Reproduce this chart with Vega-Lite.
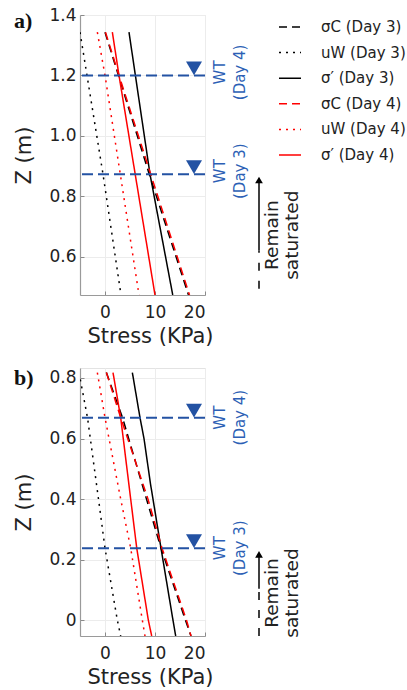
{
  "$schema": "https://vega.github.io/schema/vega-lite/v6.json",
  "background": "white",
  "padding": {"left": 13, "top": 5, "right": 0, "bottom": 0},
  "config": {
    "font": "DejaVu Sans",
    "view": {"stroke": "#e3e3e3"},
    "axis": {
      "domainColor": "#9a9a9a",
      "domainWidth": 1.2,
      "grid": true,
      "gridColor": "#ececec",
      "tickColor": "#8a8a8a",
      "tickSize": -4,
      "labelFont": "DejaVu Sans",
      "titleFont": "DejaVu Sans",
      "labelFontSize": 17,
      "titleFontSize": 21,
      "labelColor": "#222222",
      "titleColor": "#222222",
      "titleFontWeight": "normal",
      "labelOverlap": false
    }
  },
  "datasets": {
    "grid5": [{"s": 5}, {"s": 15}],
    "a_lines": [
      {"series": "σC (Day 3)", "z": 1.343, "s": 0.0},
      {"series": "σC (Day 3)", "z": 0.873, "s": 8.85},
      {"series": "σC (Day 3)", "z": 0.473, "s": 16.7},
      {"series": "uW (Day 3)", "z": 1.343, "s": -5.0},
      {"series": "uW (Day 3)", "z": 0.873, "s": -0.4},
      {"series": "uW (Day 3)", "z": 0.473, "s": 3.2},
      {"series": "σ′ (Day 3)", "z": 1.343, "s": 4.8},
      {"series": "σ′ (Day 3)", "z": 0.873, "s": 9.0},
      {"series": "σ′ (Day 3)", "z": 0.473, "s": 13.55},
      {"series": "σC (Day 4)", "z": 1.343, "s": 0.1},
      {"series": "σC (Day 4)", "z": 1.2, "s": 2.8},
      {"series": "σC (Day 4)", "z": 0.473, "s": 16.9},
      {"series": "uW (Day 4)", "z": 1.343, "s": -1.53},
      {"series": "uW (Day 4)", "z": 1.2, "s": 0.0},
      {"series": "uW (Day 4)", "z": 0.473, "s": 6.8},
      {"series": "σ′ (Day 4)", "z": 1.343, "s": 1.47},
      {"series": "σ′ (Day 4)", "z": 1.2, "s": 2.8},
      {"series": "σ′ (Day 4)", "z": 0.473, "s": 10.0}
    ],
    "b_lines": [
      {"series": "σC (Day 3)", "z": 0.818, "s": 0.27},
      {"series": "σC (Day 3)", "z": 0.669, "s": 3.5},
      {"series": "σC (Day 3)", "z": 0.4, "s": 8.3},
      {"series": "σC (Day 3)", "z": 0.238, "s": 11.2},
      {"series": "σC (Day 3)", "z": 0.0, "s": 16.1},
      {"series": "σC (Day 3)", "z": -0.052, "s": 17.2},
      {"series": "uW (Day 3)", "z": 0.818, "s": -5.2},
      {"series": "uW (Day 3)", "z": 0.669, "s": -3.5},
      {"series": "uW (Day 3)", "z": 0.4, "s": -1.3},
      {"series": "uW (Day 3)", "z": 0.238, "s": 0.0},
      {"series": "uW (Day 3)", "z": 0.0, "s": 2.47},
      {"series": "uW (Day 3)", "z": -0.052, "s": 3.14},
      {"series": "σ′ (Day 3)", "z": 0.818, "s": 5.47},
      {"series": "σ′ (Day 3)", "z": 0.669, "s": 7.0},
      {"series": "σ′ (Day 3)", "z": 0.6, "s": 7.8},
      {"series": "σ′ (Day 3)", "z": 0.45, "s": 9.1},
      {"series": "σ′ (Day 3)", "z": 0.4, "s": 9.6},
      {"series": "σ′ (Day 3)", "z": 0.238, "s": 11.2},
      {"series": "σ′ (Day 3)", "z": 0.0, "s": 13.6},
      {"series": "σ′ (Day 3)", "z": -0.052, "s": 14.14},
      {"series": "σC (Day 4)", "z": 0.818, "s": 0.28},
      {"series": "σC (Day 4)", "z": 0.669, "s": 3.14},
      {"series": "σC (Day 4)", "z": 0.4, "s": 8.6},
      {"series": "σC (Day 4)", "z": 0.238, "s": 11.4},
      {"series": "σC (Day 4)", "z": 0.0, "s": 16.3},
      {"series": "σC (Day 4)", "z": -0.052, "s": 17.2},
      {"series": "uW (Day 4)", "z": 0.818, "s": -1.53},
      {"series": "uW (Day 4)", "z": 0.669, "s": 0.0},
      {"series": "uW (Day 4)", "z": 0.4, "s": 3.14},
      {"series": "uW (Day 4)", "z": 0.238, "s": 5.14},
      {"series": "uW (Day 4)", "z": 0.0, "s": 7.47},
      {"series": "uW (Day 4)", "z": -0.052, "s": 8.0},
      {"series": "σ′ (Day 4)", "z": 0.818, "s": 1.6},
      {"series": "σ′ (Day 4)", "z": 0.669, "s": 3.14},
      {"series": "σ′ (Day 4)", "z": 0.4, "s": 5.14},
      {"series": "σ′ (Day 4)", "z": 0.238, "s": 6.35},
      {"series": "σ′ (Day 4)", "z": 0.0, "s": 8.67},
      {"series": "σ′ (Day 4)", "z": -0.052, "s": 9.34}
    ],
    "a_wt": [
      {"z": 1.2, "label": "WT\n(Day 4)"},
      {"z": 0.873, "label": "WT\n(Day 3)"}
    ],
    "b_wt": [
      {"z": 0.669, "label": "WT\n(Day 4)"},
      {"z": 0.238, "label": "WT\n(Day 3)"}
    ],
    "a_arrow": [
      {"part": "solid", "z": 0.62, "z2": 0.858},
      {"part": "dashed", "z": 0.494, "z2": 0.62}
    ],
    "b_arrow": [
      {"part": "solid", "z": 0.104, "z2": 0.222},
      {"part": "dashed", "z": -0.052, "z2": 0.104}
    ],
    "a_tip": [{"z": 0.865}],
    "b_tip": [{"z": 0.229}],
    "a_note": [{"z": 0.671, "label": "Remain\nsaturated"}],
    "b_note": [{"z": 0.09, "label": "Remain\nsaturated"}]
  },
  "resolve": {
    "scale": {"x": "independent", "y": "independent", "color": "independent", "strokeDash": "independent"},
    "legend": {"color": "independent", "strokeDash": "independent"}
  },
  "spacing": 19,
  "vconcat": [
    {
      "width": 125,
      "height": 280,
      "title": {"text": "a)", "anchor": "start", "frame": "bounds", "font": "Liberation Serif", "fontWeight": "bold", "fontSize": 22, "color": "#111111", "offset": 0, "dy": 27},
      "encoding": {
        "y": {
          "field": "z", "type": "quantitative",
          "scale": {"domain": [0.473, 1.4], "nice": false, "zero": false},
          "axis": {"title": "Z (m)", "values": [0.6, 0.8, 1.0, 1.2, 1.4], "format": ".1f", "labelPadding": 8, "titlePadding": 14}
        }
      },
      "layer": [
        {
          "data": {"name": "grid5"},
          "mark": {"type": "rule", "color": "#ececec", "strokeWidth": 1},
          "encoding": {"x": {"field": "s", "type": "quantitative"}}
        },
        {
          "data": {"name": "a_lines"},
          "mark": {"type": "line", "clip": true, "strokeWidth": 1.5},
          "encoding": {
            "x": {"field": "s", "type": "quantitative", "scale": {"domain": [-5, 20], "nice": false, "zero": false},
                  "axis": {"title": "Stress (KPa)", "values": [0, 10, 20], "labelPadding": 13, "titlePadding": 5, "titleX": 70}},
            "order": {"field": "z", "sort": "descending"},
            "color": {"field": "series", "type": "nominal",
              "scale": {"domain": ["σC (Day 3)", "uW (Day 3)", "σ′ (Day 3)", "σC (Day 4)", "uW (Day 4)", "σ′ (Day 4)"], "range": ["#000000", "#000000", "#000000", "#ff0000", "#ff0000", "#ff0000"]},
              "legend": {"orient": "none", "legendX": 198, "legendY": 0, "title": null, "symbolType": "stroke", "symbolSize": 484, "symbolStrokeWidth": 1.5, "labelFontSize": 15, "labelFont": "DejaVu Sans", "labelColor": "#222222", "labelOffset": 19, "rowPadding": 5.6}},
            "strokeDash": {"field": "series", "type": "nominal",
              "scale": {"domain": ["σC (Day 3)", "uW (Day 3)", "σ′ (Day 3)", "σC (Day 4)", "uW (Day 4)", "σ′ (Day 4)"], "range": [[8, 5], [2, 5], [1, 0], [8, 5], [2, 5], [1, 0]]},
              "legend": {"orient": "none", "legendX": 198, "legendY": 0, "title": null, "symbolType": "stroke", "symbolSize": 484, "symbolStrokeWidth": 1.5, "labelFontSize": 15, "labelFont": "DejaVu Sans", "labelColor": "#222222", "labelOffset": 19, "rowPadding": 5.6}}
          }
        },
        {
          "data": {"name": "a_wt"},
          "mark": {"type": "rule", "color": "#2352a3", "strokeWidth": 2, "strokeDash": [11, 5]},
          "encoding": {}
        },
        {
          "data": {"name": "a_wt"},
          "mark": {"type": "point", "shape": "triangle-down", "size": 256, "filled": true, "color": "#2352a3", "opacity": 1, "yOffset": -7},
          "encoding": {"x": {"datum": 17.8, "type": "quantitative"}}
        },
        {
          "data": {"name": "a_wt"},
          "mark": {"type": "text", "angle": 270, "align": "center", "baseline": "middle", "fontSize": 15, "lineHeight": 20, "lineBreak": "\n", "color": "#2c5fb5", "dx": 3},
          "encoding": {"x": {"datum": 23.0, "type": "quantitative"}, "text": {"field": "label"}}
        },
        {
          "data": {"name": "a_arrow"},
          "transform": [{"filter": "datum.part === 'solid'"}],
          "mark": {"type": "rule", "color": "#000000", "strokeWidth": 1.5},
          "encoding": {"x": {"datum": 30.8, "type": "quantitative"}, "y2": {"field": "z2"}}
        },
        {
          "data": {"name": "a_arrow"},
          "transform": [{"filter": "datum.part === 'dashed'"}],
          "mark": {"type": "rule", "color": "#000000", "strokeWidth": 1.5, "strokeDash": [8, 10]},
          "encoding": {"x": {"datum": 30.8, "type": "quantitative"}, "y2": {"field": "z2"}}
        },
        {
          "data": {"name": "a_tip"},
          "mark": {"type": "point", "shape": "triangle-up", "size": 60, "filled": true, "color": "#000000", "opacity": 1, "yOffset": 3.4},
          "encoding": {"x": {"datum": 30.8, "type": "quantitative"}}
        },
        {
          "data": {"name": "a_note"},
          "mark": {"type": "text", "angle": 270, "align": "center", "baseline": "middle", "fontSize": 18.5, "lineHeight": 20, "lineBreak": "\n", "color": "#222222"},
          "encoding": {"x": {"datum": 33.4, "type": "quantitative"}, "text": {"field": "label"}}
        }
      ]
    },
    {
      "width": 125,
      "height": 268,
      "title": {"text": "b)", "anchor": "start", "frame": "bounds", "font": "Liberation Serif", "fontWeight": "bold", "fontSize": 22, "color": "#111111", "offset": 0, "dy": 22},
      "encoding": {
        "y": {
          "field": "z", "type": "quantitative",
          "scale": {"domain": [-0.052, 0.833], "nice": false, "zero": false},
          "axis": {"title": "Z (m)", "values": [0, 0.2, 0.4, 0.6, 0.8], "format": ".1~f", "labelPadding": 8, "titlePadding": 14}
        }
      },
      "layer": [
        {
          "data": {"name": "grid5"},
          "mark": {"type": "rule", "color": "#ececec", "strokeWidth": 1},
          "encoding": {"x": {"field": "s", "type": "quantitative"}}
        },
        {
          "data": {"name": "b_lines"},
          "mark": {"type": "line", "clip": true, "strokeWidth": 1.5},
          "encoding": {
            "x": {"field": "s", "type": "quantitative", "scale": {"domain": [-5, 20], "nice": false, "zero": false},
                  "axis": {"title": "Stress (KPa)", "values": [0, 10, 20], "labelPadding": 13, "titlePadding": 5, "titleX": 70}},
            "order": {"field": "z", "sort": "descending"},
            "color": {"field": "series", "type": "nominal",
              "scale": {"domain": ["σC (Day 3)", "uW (Day 3)", "σ′ (Day 3)", "σC (Day 4)", "uW (Day 4)", "σ′ (Day 4)"], "range": ["#000000", "#000000", "#000000", "#ff0000", "#ff0000", "#ff0000"]},
              "legend": null},
            "strokeDash": {"field": "series", "type": "nominal",
              "scale": {"domain": ["σC (Day 3)", "uW (Day 3)", "σ′ (Day 3)", "σC (Day 4)", "uW (Day 4)", "σ′ (Day 4)"], "range": [[8, 5], [2, 5], [1, 0], [8, 5], [2, 5], [1, 0]]},
              "legend": null}
          }
        },
        {
          "data": {"name": "b_wt"},
          "mark": {"type": "rule", "color": "#2352a3", "strokeWidth": 2, "strokeDash": [11, 5]},
          "encoding": {}
        },
        {
          "data": {"name": "b_wt"},
          "mark": {"type": "point", "shape": "triangle-down", "size": 256, "filled": true, "color": "#2352a3", "opacity": 1, "yOffset": -7},
          "encoding": {"x": {"datum": 17.8, "type": "quantitative"}}
        },
        {
          "data": {"name": "b_wt"},
          "mark": {"type": "text", "angle": 270, "align": "center", "baseline": "middle", "fontSize": 15, "lineHeight": 20, "lineBreak": "\n", "color": "#2c5fb5", "dx": 0},
          "encoding": {"x": {"datum": 23.0, "type": "quantitative"}, "text": {"field": "label"}}
        },
        {
          "data": {"name": "b_arrow"},
          "transform": [{"filter": "datum.part === 'solid'"}],
          "mark": {"type": "rule", "color": "#000000", "strokeWidth": 1.5},
          "encoding": {"x": {"datum": 30.8, "type": "quantitative"}, "y2": {"field": "z2"}}
        },
        {
          "data": {"name": "b_arrow"},
          "transform": [{"filter": "datum.part === 'dashed'"}],
          "mark": {"type": "rule", "color": "#000000", "strokeWidth": 1.5, "strokeDash": [8, 10]},
          "encoding": {"x": {"datum": 30.8, "type": "quantitative"}, "y2": {"field": "z2"}}
        },
        {
          "data": {"name": "b_tip"},
          "mark": {"type": "point", "shape": "triangle-up", "size": 60, "filled": true, "color": "#000000", "opacity": 1, "yOffset": 3.4},
          "encoding": {"x": {"datum": 30.8, "type": "quantitative"}}
        },
        {
          "data": {"name": "b_note"},
          "mark": {"type": "text", "angle": 270, "align": "center", "baseline": "middle", "fontSize": 18.5, "lineHeight": 20, "lineBreak": "\n", "color": "#222222"},
          "encoding": {"x": {"datum": 33.4, "type": "quantitative"}, "text": {"field": "label"}}
        }
      ]
    }
  ]
}
